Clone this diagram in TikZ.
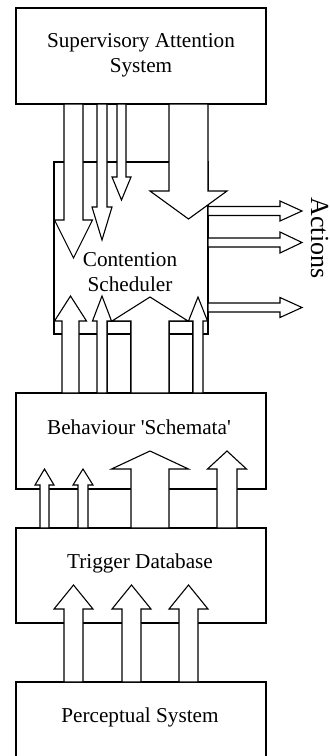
\documentclass[tikz,border=0pt]{standalone}
\usepackage{fontspec}
\setmainfont{Liberation Serif}
\tikzset{
  unit/.style={rectangle,draw,line width=0.55pt,minimum width=125pt,
               minimum height=48pt,inner sep=0pt},
  ulabel/.style={inner sep=0pt,align=center,font=\fontsize{10.6}{12.5}\selectfont},
  barr/.style={draw,fill=white,line width=0.55pt,line join=miter},
  hollow/.style={draw,line width=0.55pt},
}
% block arrows: centre, shaft half width, head half width, start, head base, tip
\newcommand\blockv[6]{%
  \draw[barr] ({#1-#2},#4) -- ({#1-#2},#5) -- ({#1-#3},#5) -- (#1,#6)
    -- ({#1+#3},#5) -- ({#1+#2},#5) -- ({#1+#2},#4) -- cycle;}
\newcommand\blockh[6]{%
  \draw[barr] (#4,{#1-#2}) -- (#5,{#1-#2}) -- (#5,{#1-#3}) -- (#6,#1)
    -- (#5,{#1+#3}) -- (#5,{#1+#2}) -- (#4,{#1+#2}) -- cycle;}

\begin{document}
\begin{tikzpicture}[x=0.5pt,y=-0.5pt]
  \useasboundingbox (0,0) rectangle (329,756);
  \clip (0,0) rectangle (329,756);

  % boxes
  \node[unit] (sas) at (141,56) {};
  \node[unit,minimum width=77pt,minimum height=86pt] (cs) at (131,248) {};
  \node[unit] (beh) at (141,441) {};
  \node[unit,minimum height=47.5pt] (trig) at (141,575.5) {};
  \node[unit] (perc) at (141,730) {};

  % supervisory system down into the scheduler
  \blockv{73.5}{9.5}{19}{104}{220}{258}
  \blockv{102}{5}{10}{104}{207}{240}
  \blockv{121.5}{4.5}{9.5}{104}{177}{200}
  \blockv{188.5}{19.5}{38.5}{104}{191}{219}

  % schemata up into the scheduler
  \draw[hollow] (107,321) rectangle (131,393) (169,321) rectangle (193,393);
  \blockv{70.5}{8.5}{16}{393}{321}{296}
  \blockv{102}{5}{9.5}{393}{321}{296}
  \blockv{150}{19}{38}{393}{321}{297}
  \blockv{198}{5}{9.5}{393}{321}{297}

  % actions
  \blockh{211}{4.5}{10}{208}{280}{302}
  \blockh{242.5}{4.5}{10.5}{208}{280}{302}
  \blockh{307.5}{4.5}{10}{208}{280}{302}

  % trigger database up into schemata
  \blockv{44.5}{4.5}{9.5}{528}{485}{469}
  \blockv{83}{5}{10}{528}{485}{469}
  \blockv{150}{19}{38.5}{528}{469}{451}
  \blockv{227}{10}{19.5}{528}{469}{451}

  % perceptual system up into trigger database
  \blockv{73.5}{9.5}{19.5}{682}{609}{585}
  \blockv{131.5}{9.5}{19.5}{682}{609}{585}
  \blockv{188.5}{9.5}{19.5}{682}{609}{585}

  % labels
  \node[ulabel] (saslbl) at (141,55.6) {Supervisory Attention\\System};
  \node[ulabel] (cslbl) at (130,272.3) {Contention\\Scheduler};
  \node[ulabel,anchor=base] (behlbl) at (139,434)
    {Behaviour \textquotesingle Schemata\textquotesingle};
  \node[ulabel,anchor=base] (triglbl) at (140,568) {Trigger Database};
  \node[ulabel,anchor=base] (perclbl) at (140,722) {Perceptual System};
  \node[inner sep=0pt,anchor=base,rotate=-90,font=\fontsize{13}{15}\selectfont]
    (actlbl) at (311,238) {Actions};
\end{tikzpicture}
\end{document}
